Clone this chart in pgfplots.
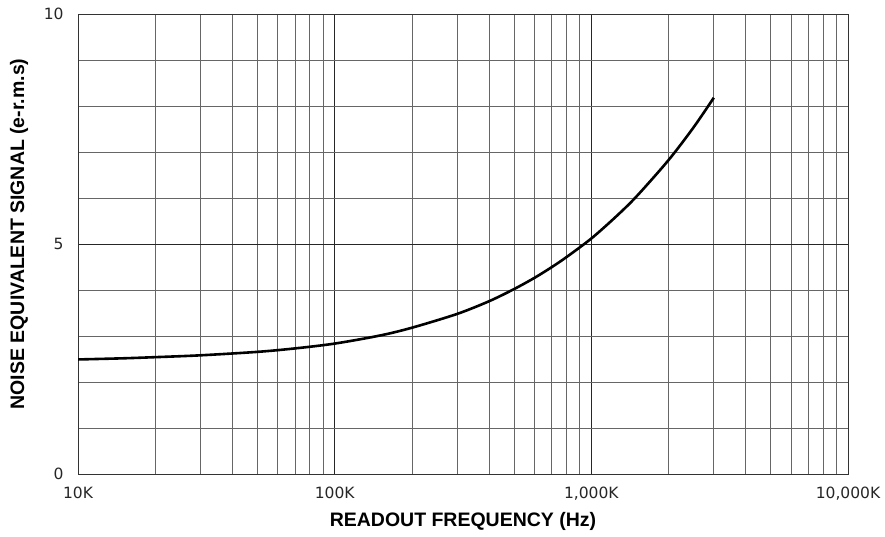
\documentclass[border=0pt]{standalone}
\usepackage{fontspec}
\setmainfont{DejaVu Sans}
\newfontfamily\labfont{Liberation Sans}
\usepackage{pgfplots}
\pgfplotsset{compat=1.18}
\begin{document}
\begin{tikzpicture}
\useasboundingbox (0,0) rectangle (885pt,537pt);
\begin{axis}[
  at={(78pt,63pt)}, anchor=south west,
  scale only axis, width=770pt, height=460pt,
  xmode=log, xmin=1e4, xmax=1e7, ymin=0, ymax=10,
  xtick={1e4,1e5,1e6,1e7},
  xticklabels={10K,100K,{1,000K},{10,000K}},
  ytick={0,5,10}, yticklabels={0,5,10},
  minor ytick={1,2,3,4,6,7,8,9},
  grid=both,
  major grid style={black!85, line width=0.8pt},
  minor grid style={black!60, line width=0.8pt},
  axis line style={black!80, line width=0.8pt},
  major tick length=0pt, minor tick length=0pt,
  tick label style={font=\fontsize{15.5}{16}\selectfont, text=black!85},
  xticklabel style={yshift=-9pt},
  yticklabel style={xshift=-11pt},
  xlabel={READOUT FREQUENCY (Hz)},
  ylabel={NOISE EQUIVALENT SIGNAL (e-r.m.s)},
  label style={font=\labfont\bfseries\fontsize{19.5}{20}\selectfont},
  xlabel style={at={(axis description cs:0.5,0)}, anchor=center, yshift=-47pt},
  ylabel style={at={(axis description cs:0,0.5)}, anchor=center, rotate=0, yshift=59pt, xshift=10pt},
]
\addplot[black, line width=2.6pt, smooth] coordinates {
(1e4,2.49) (1.5e4,2.515) (2e4,2.54) (3e4,2.58) (5e4,2.655) (7e4,2.73) (1e5,2.835)
(1.5e5,3.01) (2e5,3.18) (3e5,3.48) (4e5,3.757) (5e5,4.02) (6e5,4.263) (7e5,4.495)
(8e5,4.715) (1e6,5.12) (1.25e6,5.6) (1.5e6,6.035) (2e6,6.826) (2.5e6,7.533) (3e6,8.18)
};
\end{axis}
\end{tikzpicture}
\end{document}
